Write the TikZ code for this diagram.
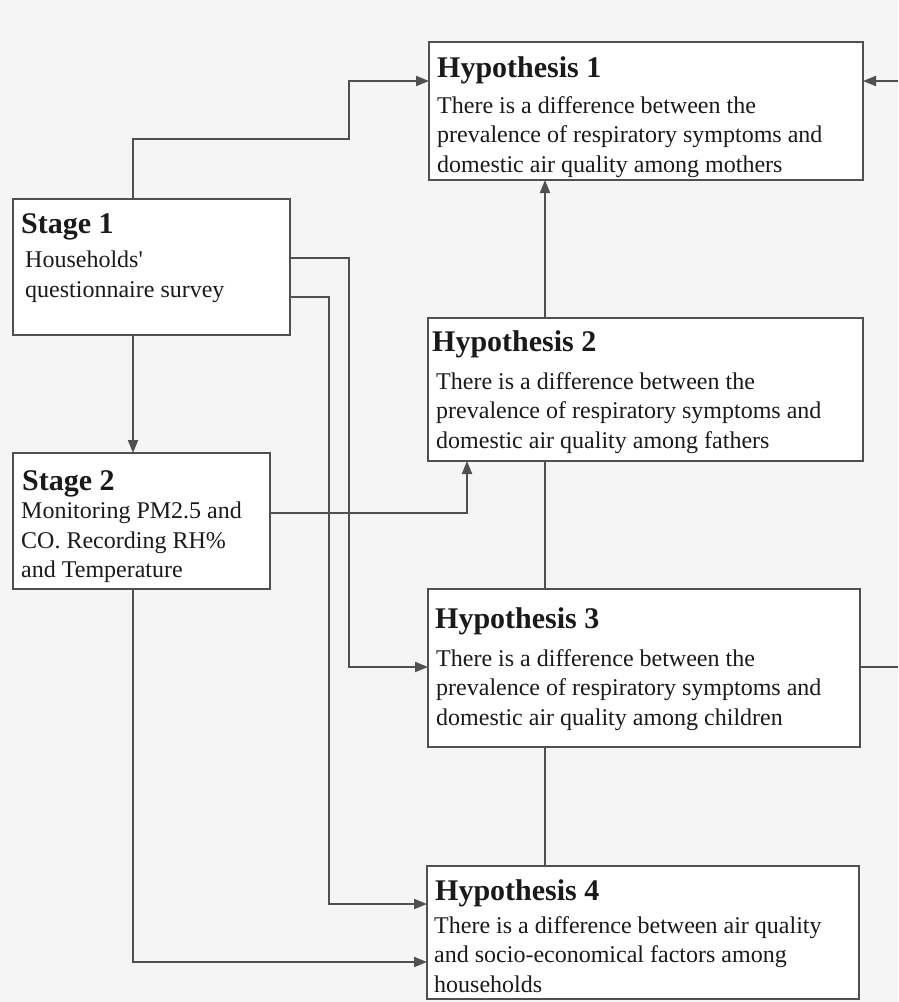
\documentclass[tikz,border=0pt]{standalone}
\usepackage{fontspec}
\setmainfont{Liberation Serif}[Ligatures=TeXOff]
\usetikzlibrary{arrows.meta}
\definecolor{paper}{RGB}{245,245,245}
\definecolor{ink}{RGB}{26,26,26}
\definecolor{wire}{RGB}{80,80,80}
\begin{document}
\begin{tikzpicture}[x=1pt,y=-1pt,
  box/.style={draw=wire, line width=2pt, fill=white, anchor=north west, inner sep=0pt, outer sep=0pt},
  title/.style={anchor=base west, inner sep=0pt, text=ink, font=\fontsize{30}{30}\selectfont\bfseries},
  body/.style={anchor=north west, inner sep=0pt, text=ink, align=left, font=\fontsize{24}{29.5}\selectfont},
  link/.style={draw=wire, line width=2pt},
  arr/.style={link, -{Triangle[length=13pt,width=10pt]}},
]
\fill[paper] (0,0) rectangle (898,1002);
\useasboundingbox (0,0) rectangle (898,1002);

% routing columns and rows
\coordinate (xA) at (133,0);
\coordinate (xB) at (349,0);
\coordinate (xC) at (329,0);
\coordinate (xD) at (467,0);
\coordinate (xE) at (545,0);
\coordinate (yA) at (0,139);
\coordinate (yB) at (0,81);
\coordinate (yC) at (0,258);
\coordinate (yD) at (0,667);
\coordinate (yF) at (0,297);
\coordinate (yG) at (0,904);
\coordinate (yH) at (0,513);
\coordinate (yK) at (0,962);
\coordinate (edgeHigh) at (898,81);
\coordinate (edgeLow) at (898,667);

% boxes
\node[box, minimum width=277, minimum height=136] (s1) at (13,199) {};
\node[box, minimum width=257, minimum height=136] (s2) at (13,453) {};
\node[box, minimum width=434, minimum height=138] (h1) at (429,42) {};
\node[box, minimum width=435, minimum height=143] (h2) at (428,318) {};
\node[box, minimum width=432, minimum height=158] (h3) at (428,589) {};
\node[box, minimum width=432, minimum height=133] (h4) at (427,866) {};

% texts
\node[title] (s1t) at (21,233) {Stage 1};
\node[body]  (s1b) at (25,251) {Households'\\questionnaire survey};
\node[title] (s2t) at (22,490) {Stage 2};
\node[body]  (s2b) at (21,502) {Monitoring PM2.5 and\\CO. Recording RH\%\\and Temperature};
\node[title] (h1t) at (437,77) {Hypothesis 1};
\node[body]  (h1b) at (437,96) {There is a difference between the\\prevalence of respiratory symptoms and\\domestic air quality among mothers};
\node[title] (h2t) at (432,351) {Hypothesis 2};
\node[body]  (h2b) at (436,372) {There is a difference between the\\prevalence of respiratory symptoms and\\domestic air quality among fathers};
\node[title] (h3t) at (435,628) {Hypothesis 3};
\node[body]  (h3b) at (436,649) {There is a difference between the\\prevalence of respiratory symptoms and\\domestic air quality among children};
\node[title] (h4t) at (435,900) {Hypothesis 4};
\node[body]  (h4b) at (434,916) {There is a difference between air quality\\and socio-economical factors among\\households};

% connectors
\draw[arr] (s1.north -| xA) |- (xB |- yA) |- (h1.west |- yB);
\draw[arr] (s1.east |- yC) -| (xB |- yD) -- (h3.west |- yD);
\draw[arr] (s1.east |- yF) -| (xC |- yG) -- (h4.west |- yG);
\draw[arr] (s1.south -| xA) -- (s2.north -| xA);
\draw[arr] (s2.east |- yH) -| (h2.south -| xD);
\draw[arr] (s2.south -| xA) |- (h4.west |- yK);
\draw[arr] (h2.north -| xE) -- (h1.south -| xE);
\draw[link] (h3.north -| xE) -- (h2.south -| xE);
\draw[link] (h4.north -| xE) -- (h3.south -| xE);
\draw[link] (h3.east |- yD) -- (edgeLow);
\draw[arr] (edgeHigh) -- (h1.east |- yB);
\end{tikzpicture}
\end{document}
